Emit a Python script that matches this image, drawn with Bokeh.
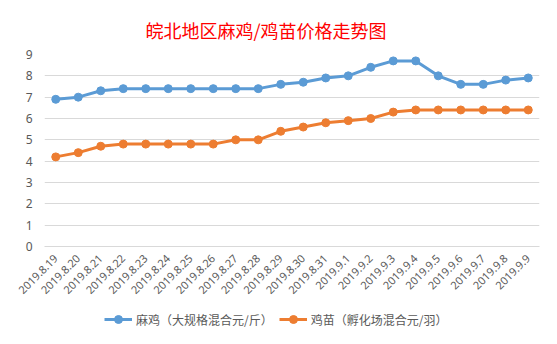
from bokeh.plotting import figure
from bokeh.layouts import column
from bokeh.models import Range1d, FactorRange, Legend, LegendItem
from bokeh.embed import file_html
from bokeh.resources import INLINE

dates = ["2019.8.19", "2019.8.20", "2019.8.21", "2019.8.22", "2019.8.23", "2019.8.24",
         "2019.8.25", "2019.8.26", "2019.8.27", "2019.8.28", "2019.8.29", "2019.8.30",
         "2019.8.31", "2019.9.1", "2019.9.2", "2019.9.3", "2019.9.4", "2019.9.5",
         "2019.9.6", "2019.9.7", "2019.9.8", "2019.9.9"]
majia = [6.9, 7.0, 7.3, 7.4, 7.4, 7.4, 7.4, 7.4, 7.4, 7.4, 7.6, 7.7,
         7.9, 8.0, 8.4, 8.7, 8.7, 8.0, 7.6, 7.6, 7.8, 7.9]
jimiao = [4.2, 4.4, 4.7, 4.8, 4.8, 4.8, 4.8, 4.8, 5.0, 5.0, 5.4, 5.6,
          5.8, 5.9, 6.0, 6.3, 6.4, 6.4, 6.4, 6.4, 6.4, 6.4]
y_ticks = [0, 1, 2, 3, 4, 5, 6, 7, 8, 9]
name_majia = "麻鸡（大规格混合元/斤）"
name_jimiao = "鸡苗（孵化场混合元/羽）"
title_text = "皖北地区麻鸡/鸡苗价格走势图"

blue = "#5B9BD5"
orange = "#ED7D31"
cjk = "Noto Sans CJK SC"

p = figure(width=557, height=300, x_range=FactorRange(*dates), y_range=Range1d(0, 9),
           output_backend="svg", toolbar_location=None,
           min_border_left=44, min_border_right=18, min_border_top=54, min_border_bottom=54)
p.title.text = title_text
p.title.text_color = "#FF0000"
p.title.text_font = cjk
p.title.text_font_size = "18px"
p.title.text_font_style = "normal"
p.title.align = "left"
p.title.offset = 101
p.title.standoff = 24
p.outline_line_color = None
p.background_fill_color = "white"
p.border_fill_color = "white"

p.xgrid.grid_line_color = None
p.ygrid.grid_line_color = "#D9D9D9"
p.ygrid.grid_line_width = 1
p.yaxis.ticker = y_ticks
p.yaxis.axis_line_color = None
p.yaxis.major_tick_line_color = None
p.yaxis.minor_tick_line_color = None
p.yaxis.major_label_text_color = "#595959"
p.yaxis.major_label_text_font_size = "12px"
p.yaxis.major_label_text_font = "Noto Sans"
p.yaxis.major_label_standoff = 6

p.xaxis.axis_line_color = "#D9D9D9"
p.xaxis.major_tick_line_color = None
p.xaxis.minor_tick_line_color = None
p.xaxis.major_label_orientation = 0.785398
p.xaxis.major_label_text_color = "#595959"
p.xaxis.major_label_text_font_size = "11px"
p.xaxis.major_label_text_font = "Noto Sans"
p.xaxis.major_label_standoff = 4

p.line(dates, majia, line_color=blue, line_width=3)
p.scatter(dates, majia, size=8, fill_color=blue, line_color=blue)
p.line(dates, jimiao, line_color=orange, line_width=3)
p.scatter(dates, jimiao, size=8, fill_color=orange, line_color=orange)

# legend strip below the chart (same series, drawn outside its visible range)
q = figure(width=557, height=44, x_range=FactorRange(*dates), y_range=Range1d(100, 101),
           output_backend="svg", toolbar_location=None, x_axis_type=None, y_axis_type=None,
           min_border=0)
q.outline_line_color = None
q.xgrid.grid_line_color = None
q.ygrid.grid_line_color = None
l1 = q.line(dates, majia, line_color=blue, line_width=3)
s1 = q.scatter(dates, majia, size=8, fill_color=blue, line_color=blue)
l2 = q.line(dates, jimiao, line_color=orange, line_width=3)
s2 = q.scatter(dates, jimiao, size=8, fill_color=orange, line_color=orange)

legend = Legend(items=[LegendItem(label=name_majia, renderers=[l1, s1]),
                       LegendItem(label=name_jimiao, renderers=[l2, s2])],
                orientation="horizontal", location=(60, 15))
legend.label_text_font = cjk
legend.label_text_font_size = "12px"
legend.label_text_color = "#595959"
legend.border_line_color = None
legend.background_fill_alpha = 0
legend.glyph_width = 28
legend.label_standoff = 4
legend.spacing = 6
legend.padding = 2
legend.margin = 0
q.add_layout(legend, "center")

layout = column(p, q, spacing=0)
open("out.html", "w").write(file_html(layout, INLINE))
